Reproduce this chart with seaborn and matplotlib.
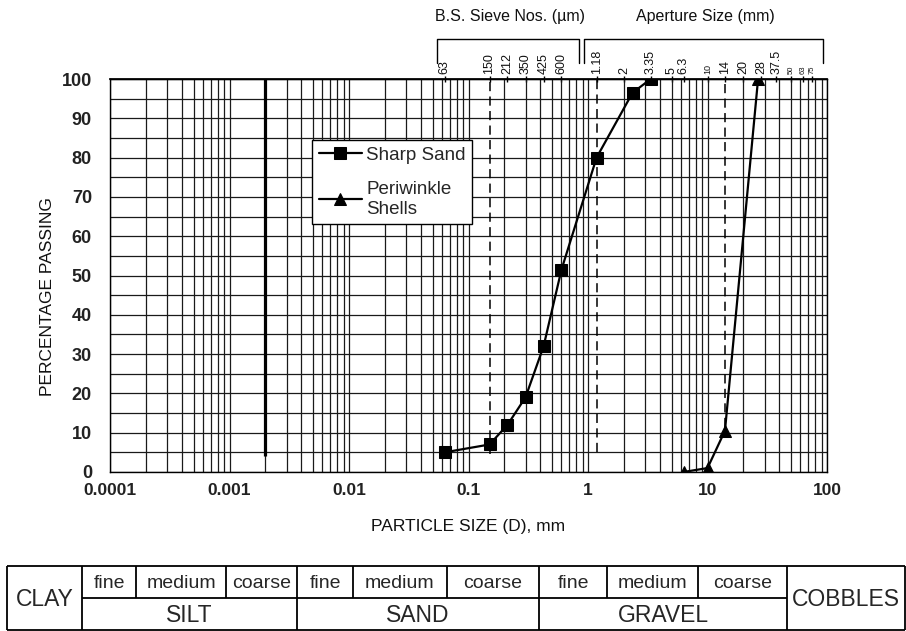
import numpy as np
import pandas as pd
import matplotlib
matplotlib.use("Agg")
import matplotlib.pyplot as plt
import matplotlib.ticker as mticker
import seaborn as sns

# ---------------- data ----------------
sand_size_mm = [0.063, 0.15, 0.212, 0.3, 0.425, 0.6, 1.18, 2.36, 3.35]
sand_passing = [5, 7, 12, 19, 32, 51.5, 80, 96.5, 100]
shell_size_mm = [6.3, 10, 14, 26.5]
shell_passing = [0, 1, 10.5, 100]
series_names = ["Sharp Sand", "Periwinkle\nShells"]
series_markers = ["s", "^"]

x_ticks = [0.0001, 0.001, 0.01, 0.1, 1, 10, 100]
x_tick_labels = ["0.0001", "0.001", "0.01", "0.1", "1", "10", "100"]
y_ticks = [0, 10, 20, 30, 40, 50, 60, 70, 80, 90, 100]

sieve_um = [63, 150, 212, 300, 425, 600]
sieve_um_labels = ["63", "150", "212", "350", "425", "600"]
sieve_mm = [1.18, 2, 3.35, 5, 6.3, 10, 14, 20, 28, 37.5, 50, 63, 75]
sieve_mm_labels = ["1.18", "2", "3.35", "5", "6.3", "10", "14", "20", "28", "37.5", "50", "63", "75"]

clay_silt_boundary_mm = [0.002]
clay_silt_ymin = [4]
dashed_sizes_mm = [0.15, 1.18, 14]
dashed_ymin = [4.5, 5, 11.5]

table_ends = ["CLAY", "COBBLES"]
table_groups = ["SILT", "SAND", "GRAVEL"]
table_subs = ["fine", "medium", "coarse"]

# ---------------- style ----------------
sns.set_theme(style="white")
plt.rcParams["font.family"] = ["Liberation Sans", "DejaVu Sans"]

W, H = 906, 631
fig = plt.figure(figsize=(W / 100, H / 100), dpi=100)

# pixel layout of plot area
L, R, T, B = 110, 827, 79, 472
ax = fig.add_axes([L / W, 1 - B / H, (R - L) / W, (B - T) / H])

# data frame for seaborn
df = pd.DataFrame({
    "size": sand_size_mm + shell_size_mm,
    "passing": sand_passing + shell_passing,
    "material": [series_names[0]] * len(sand_size_mm) + [series_names[1]] * len(shell_size_mm),
})

ax.set_xscale("log")
for name, mk in zip(series_names, series_markers):
    sub = df[df["material"] == name]
    sns.lineplot(data=sub, x="size", y="passing", ax=ax, color="black",
                 marker=mk, markersize=8, markeredgecolor="black",
                 linewidth=1.6, sort=False, estimator=None, label=name, zorder=5)

ax.set_xlim(1e-4, 100)
ax.set_ylim(0, 100)

# reference lines
ax.vlines(clay_silt_boundary_mm, clay_silt_ymin, 100, color="black", lw=2.3, zorder=4)
ax.vlines(dashed_sizes_mm, dashed_ymin, 100, color="black", lw=1.1,
          linestyles=(0, (6, 3.5)), zorder=4)

# ticks and grid
ax.set_xticks(x_ticks, x_tick_labels)
ax.xaxis.set_minor_locator(mticker.LogLocator(base=10, subs=range(2, 10), numticks=100))
ax.xaxis.set_minor_formatter(mticker.NullFormatter())
ax.set_yticks(y_ticks)
ax.yaxis.set_minor_locator(mticker.MultipleLocator(5))
ax.tick_params(axis="x", which="major", direction="out", length=6, width=1,
               color="black", labelsize=12.5, pad=2)
ax.tick_params(axis="x", which="minor", length=0)
ax.tick_params(axis="y", which="both", length=0, labelsize=13, pad=13)
for lbl in ax.get_xticklabels() + ax.get_yticklabels():
    lbl.set_fontweight("bold")
    lbl.set_color("#222222")
ax.grid(True, which="both", color="#1a1a1a", lw=0.9)
ax.set_axisbelow(True)
for s in ax.spines.values():
    s.set_color("black")
    s.set_linewidth(1.0)
    s.set_visible(True)

ax.set_xlabel("PARTICLE SIZE (D), mm", fontsize=12.5, color="#111111")
ax.xaxis.set_label_coords(0.5, (B - 519) / (B - T))
ax.set_ylabel("PERCENTAGE PASSING", fontsize=12.5, color="#111111")
ax.yaxis.set_label_coords((55 - L) / (R - L), (B - 297) / (B - T))

# top sieve axis
sec = ax.secondary_xaxis("top")
sieve_pos = [v / 1000 for v in sieve_um] + sieve_mm
sieve_lab = sieve_um_labels + sieve_mm_labels
sec.set_xticks(sieve_pos, labels=sieve_lab)
sec.xaxis.set_minor_locator(mticker.NullLocator())
sec.tick_params(axis="x", which="major", direction="inout", length=5, width=1,
                color="black", pad=1, labelsize=9, labelrotation=90)
for lbl, pos in zip(sec.get_xticklabels(), sieve_pos):
    lbl.set_color("#111111")
    if pos >= 40:
        lbl.set_fontsize(5.5)
    elif pos == 10:
        lbl.set_fontsize(6.5)
sec.spines["top"].set_color("black")

# brackets
tr = ax.get_xaxis_transform()
yb_top, yb_bot = (B - 39) / (B - T), (B - 63) / (B - T)
for x0, x1 in [(0.0542, 0.841), (0.926, 92.6)]:
    ax.plot([x0, x0, x1, x1], [yb_bot, yb_top, yb_top, yb_bot], transform=tr,
            color="black", lw=1.0, clip_on=False)
ax.text(0.222, (B - 17) / (B - T), "B.S. Sieve Nos. (µm)", transform=tr,
        ha="center", va="center", fontsize=11.5, color="#111111")
ax.text(9.53, (B - 17) / (B - T), "Aperture Size (mm)", transform=tr,
        ha="center", va="center", fontsize=11.5, color="#111111")

# legend
leg = ax.legend(loc="upper left", bbox_to_anchor=((312 - L) / (R - L), (B - 140) / (B - T)),
                frameon=True, fancybox=False, framealpha=1, edgecolor="black",
                fontsize=13.5, handlelength=2.3, handletextpad=0.25, borderpad=0.35,
                labelspacing=0.9, borderaxespad=0)
leg.get_frame().set_linewidth(1.0)
leg.set_zorder(10)
for txt in leg.get_texts():
    txt.set_linespacing(1.25)

# ---------------- classification table ----------------
tax = fig.add_axes([0, 0, 1, 1], zorder=-1)
tax.set_xlim(0, W)
tax.set_ylim(H, 0)
tax.axis("off")
col_edges = [7, 82, 136, 226, 297, 353, 447, 539, 607, 698, 787, 905]
row_edges = [566, 598, 630]
tlw = 1.3
tax.hlines([row_edges[0], row_edges[2]], col_edges[0], col_edges[-1], color="black", lw=tlw)
tax.hlines(row_edges[1], col_edges[1], col_edges[-2], color="black", lw=tlw)
major_cols = [col_edges[i] for i in (0, 1, 4, 7, 10, 11)]
minor_cols = [col_edges[i] for i in (2, 3, 5, 6, 8, 9)]
tax.vlines(major_cols, row_edges[0], row_edges[2], color="black", lw=tlw)
tax.vlines(minor_cols, row_edges[0], row_edges[1], color="black", lw=tlw)

row1_y = (row_edges[0] + row_edges[1]) / 2 + 2
row2_y = (row_edges[1] + row_edges[2]) / 2 + 2
tax.text((col_edges[0] + col_edges[1]) / 2, row_edges[1] + 1, table_ends[0],
         ha="center", va="center", fontsize=16.5)
tax.text((col_edges[10] + col_edges[11]) / 2, row_edges[1] + 1, table_ends[1],
         ha="center", va="center", fontsize=16.5)
for g, name in enumerate(table_groups):
    c0 = col_edges[1 + 3 * g]
    c1 = col_edges[4 + 3 * g]
    tax.text((c0 + c1) / 2, row2_y, name, ha="center", va="center", fontsize=16.5)
    for k, sname in enumerate(table_subs):
        a = col_edges[1 + 3 * g + k]
        b = col_edges[2 + 3 * g + k]
        tax.text((a + b) / 2, row1_y, sname, ha="center", va="center", fontsize=14)

fig.savefig("out.png", dpi=100)
